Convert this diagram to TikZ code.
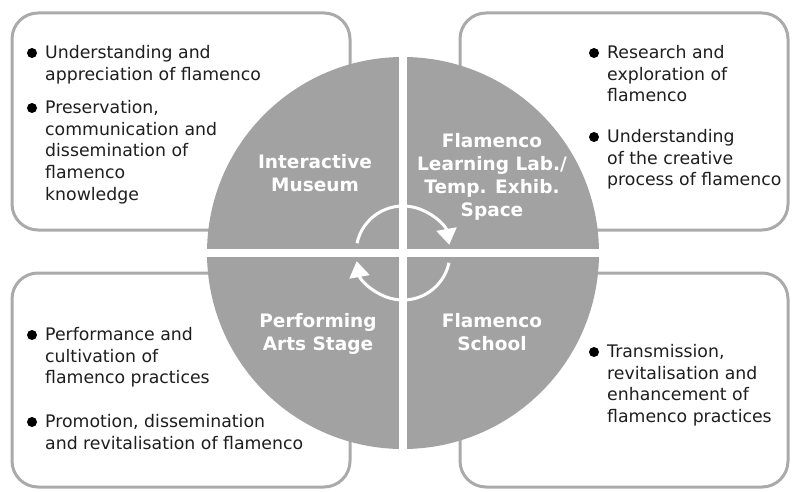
\documentclass[tikz,border=0pt]{standalone}
\usepackage{fontspec}
\setmainfont{DejaVu Sans}
\usepackage{tikz}
\usetikzlibrary{arrows.meta}
\definecolor{wheelgray}{RGB}{162,162,162}
\definecolor{framegray}{RGB}{170,170,170}
\definecolor{inkgray}{RGB}{30,30,30}
\tikzset{%
  panel/.style = {draw=framegray, line width=3pt, rounded corners=26pt,
        fill=white},
  wheel/.style = {fill=wheelgray},
  gap/.style = {draw=white, line width=8pt},
  cyc/.style = {draw=white, line width=3pt,
        -{Triangle[width=20pt,length=16pt]}},
  lbl/.style = {text=white, font=\fontsize{18.5}{23}\selectfont\bfseries,
        align=center},
  txt/.style = {text=inkgray, font=\fontsize{17.3}{21.7}\selectfont,
        align=left, anchor=north west, inner sep=0pt},
  blt/.style = {circle, fill=black, inner sep=0pt, minimum size=10pt}
}

\begin{document}
\begin{tikzpicture}[x=1pt,y=1pt]
    \useasboundingbox (0,0) rectangle (792,491);

    \draw[panel] (12,261) rectangle (350,478);
    \draw[panel] (460,261) rectangle (788,478);
    \draw[panel] (12,4) rectangle (350,218);
    \draw[panel] (460,4) rectangle (788,218);

    \coordinate (c) at (403,238);
    \fill[wheel] (c) circle (196);
    \draw[gap] ([yshift=197]c) -- ([yshift=-197]c);
    \draw[gap] ([xshift=-197]c) -- ([xshift=197]c);
    \draw[cyc] ([shift={(168:47)}]c) arc[start angle=168, end angle=10, radius=47];
    \draw[cyc] ([shift={(-12:47)}]c) arc[start angle=-12, end angle=-170, radius=47];

    \node[lbl] (mus) at (315,318) {Interactive\\Museum};
    \node[lbl] (lab) at (492,314) {Flamenco\\Learning Lab./\\Temp. Exhib.\\Space};
    \node[lbl] (stg) at (318,157) {Performing\\Arts Stage};
    \node[lbl] (sch) at (492,159) {Flamenco\\School};

    \node[txt] (tl1) at (45,446) {Understanding and\\appreciation of flamenco};
    \node[txt] (tl2) at (45,391) {Preservation,\\communication and\\dissemination of\\flamenco\\knowledge};
    \node[txt] (tr1) at (607,446) {Research and\\exploration of\\flamenco};
    \node[txt] (tr2) at (607,362) {Understanding\\of the creative\\process of flamenco};
    \node[txt] (bl1) at (45,164) {Performance and\\cultivation of\\flamenco practices};
    \node[txt] (bl2) at (45,77) {Promotion, dissemination\\and revitalisation of flamenco};
    \node[txt] (br1) at (607,147) {Transmission,\\revitalisation and\\enhancement of\\flamenco practices};

    \node[blt] (tl1b) at ([shift={(-13,-8)}]tl1.north west) {};
    \node[blt] (tl2b) at ([shift={(-13,-8)}]tl2.north west) {};
    \node[blt] (tr1b) at ([shift={(-13,-8)}]tr1.north west) {};
    \node[blt] (tr2b) at ([shift={(-13,-8)}]tr2.north west) {};
    \node[blt] (bl1b) at ([shift={(-13,-8)}]bl1.north west) {};
    \node[blt] (bl2b) at ([shift={(-13,-8)}]bl2.north west) {};
    \node[blt] (br1b) at ([shift={(-13,-8)}]br1.north west) {};
\end{tikzpicture}
\end{document}
